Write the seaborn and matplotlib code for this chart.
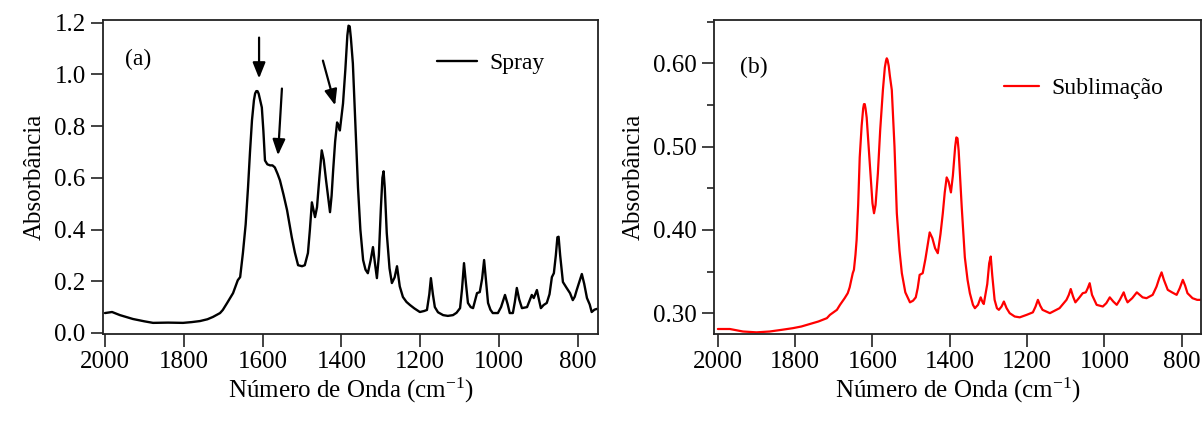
import numpy as np
import pandas as pd
import matplotlib
matplotlib.use("Agg")
import matplotlib.pyplot as plt
import seaborn as sns

# ---- data ----
wn_spray = [2000, 1982, 1962, 1929, 1900, 1878, 1840, 1802, 1780, 1759, 1740, 1726, 1708, 1701,
            1690, 1675, 1663, 1657, 1650, 1643, 1637, 1632, 1627, 1622, 1619, 1616, 1613, 1610,
            1607, 1602, 1598, 1594, 1588, 1581, 1575, 1569, 1562, 1556, 1547, 1538, 1526, 1518,
            1510, 1500, 1493, 1485, 1480, 1475, 1467, 1462, 1456, 1450, 1445, 1439, 1429, 1425,
            1421, 1416, 1411, 1407, 1404, 1396, 1390, 1385, 1382, 1379, 1376, 1371, 1365, 1358,
            1352, 1345, 1339, 1333, 1326, 1320, 1315, 1310, 1305, 1300, 1296, 1293, 1290, 1285,
            1278, 1272, 1265, 1259, 1252, 1244, 1235, 1226, 1215, 1201, 1190, 1183, 1177, 1173,
            1168, 1163, 1155, 1142, 1130, 1117, 1108, 1099, 1094, 1089, 1084, 1079, 1072, 1066,
            1056, 1049, 1043, 1038, 1033, 1028, 1022, 1016, 1003, 995, 985, 978, 973, 965, 960,
            955, 949, 942, 929, 917, 912, 904, 899, 894, 887, 879, 872, 866, 861, 856, 852, 849,
            845, 838, 829, 820, 813, 808, 803, 796, 790, 784, 777, 770, 765, 758, 752]
abs_spray = [0.077, 0.081, 0.069, 0.054, 0.045, 0.039, 0.040, 0.039, 0.042, 0.046, 0.053, 0.062,
             0.077, 0.089, 0.116, 0.154, 0.204, 0.216, 0.309, 0.420, 0.563, 0.700, 0.822, 0.900,
             0.926, 0.935, 0.935, 0.925, 0.905, 0.872, 0.780, 0.667, 0.652, 0.648, 0.648, 0.640,
             0.615, 0.590, 0.535, 0.475, 0.370, 0.310, 0.262, 0.258, 0.262, 0.309, 0.400, 0.505,
             0.448, 0.486, 0.600, 0.706, 0.670, 0.590, 0.467, 0.530, 0.629, 0.740, 0.814, 0.800,
             0.783, 0.887, 1.020, 1.150, 1.188, 1.185, 1.140, 1.042, 0.820, 0.563, 0.400, 0.282,
             0.245, 0.231, 0.280, 0.332, 0.270, 0.212, 0.300, 0.480, 0.600, 0.625, 0.560, 0.386,
             0.250, 0.193, 0.215, 0.258, 0.180, 0.139, 0.120, 0.108, 0.095, 0.081, 0.085, 0.089,
             0.150, 0.212, 0.150, 0.100, 0.080, 0.069, 0.066, 0.069, 0.078, 0.096, 0.170, 0.270,
             0.190, 0.116, 0.100, 0.096, 0.154, 0.158, 0.210, 0.282, 0.200, 0.116, 0.090, 0.077,
             0.077, 0.100, 0.147, 0.110, 0.077, 0.077, 0.120, 0.174, 0.130, 0.096, 0.100, 0.147,
             0.135, 0.166, 0.130, 0.096, 0.108, 0.116, 0.150, 0.216, 0.231, 0.300, 0.370, 0.372,
             0.300, 0.197, 0.175, 0.154, 0.127, 0.140, 0.166, 0.200, 0.228, 0.190, 0.135, 0.110,
             0.081, 0.090, 0.093]

wn_sub = [2000, 1969, 1935, 1900, 1866, 1835, 1806, 1784, 1762, 1740, 1718, 1710, 1692, 1684,
          1672, 1664, 1659, 1651, 1648, 1644, 1641, 1637, 1633, 1628, 1624, 1622, 1620, 1618,
          1615, 1610, 1604, 1600, 1596, 1592, 1586, 1580, 1573, 1568, 1565, 1563, 1561, 1558,
          1555, 1550, 1543, 1537, 1530, 1524, 1515, 1503, 1495, 1488, 1483, 1478, 1470, 1463,
          1452, 1445, 1438, 1431, 1424, 1418, 1413, 1408, 1403, 1397, 1392, 1386, 1383, 1380,
          1377, 1373, 1369, 1361, 1354, 1348, 1340, 1335, 1327, 1320, 1315, 1312, 1303, 1298,
          1294, 1290, 1284, 1278, 1273, 1266, 1260, 1253, 1245, 1232, 1219, 1201, 1185, 1178,
          1172, 1166, 1160, 1141, 1116, 1098, 1092, 1087, 1081, 1075, 1066, 1056, 1048, 1043,
          1038, 1032, 1020, 1004, 995, 986, 977, 968, 960, 950, 945, 940, 928, 916, 901, 891,
          875, 865, 858, 852, 846, 836, 825, 813, 805, 797, 791, 785, 772, 760, 750]
abs_sub = [0.281, 0.281, 0.278, 0.277, 0.278, 0.280, 0.282, 0.284, 0.287, 0.290, 0.294, 0.298,
           0.304, 0.310, 0.318, 0.324, 0.331, 0.348, 0.352, 0.370, 0.388, 0.430, 0.487, 0.525,
           0.546, 0.551, 0.551, 0.546, 0.535, 0.500, 0.460, 0.432, 0.420, 0.430, 0.468, 0.520,
           0.568, 0.595, 0.603, 0.606, 0.604, 0.597, 0.585, 0.568, 0.500, 0.420, 0.375, 0.348,
           0.325, 0.313, 0.315, 0.319, 0.330, 0.346, 0.348, 0.365, 0.397, 0.390, 0.378, 0.372,
           0.395, 0.420, 0.445, 0.463, 0.458, 0.445, 0.465, 0.500, 0.511, 0.510, 0.495, 0.460,
           0.427, 0.367, 0.340, 0.324, 0.310, 0.306, 0.310, 0.319, 0.313, 0.311, 0.335, 0.360,
           0.368, 0.345, 0.316, 0.306, 0.304, 0.308, 0.314, 0.306, 0.300, 0.296, 0.295, 0.298,
           0.301, 0.308, 0.316, 0.309, 0.304, 0.300, 0.306, 0.316, 0.322, 0.329, 0.320, 0.313,
           0.318, 0.324, 0.325, 0.330, 0.336, 0.322, 0.310, 0.308, 0.312, 0.319, 0.314, 0.310,
           0.316, 0.325, 0.318, 0.313, 0.318, 0.325, 0.319, 0.318, 0.322, 0.332, 0.342, 0.349,
           0.340, 0.328, 0.325, 0.322, 0.330, 0.340, 0.333, 0.324, 0.318, 0.316, 0.316]

x_ticks = [2000, 1800, 1600, 1400, 1200, 1000, 800]

# arrows in panel (a): (tail wn, tail abs, head wn, head abs)
arrows_a = [(1609, 1.142, 1609, 0.984),
            (1551, 0.945, 1561, 0.687),
            (1447, 1.053, 1416, 0.880)]

# ---- style ----
sns.set_style("ticks")
plt.rcParams["font.family"] = ["Liberation Serif", "DejaVu Serif"]
plt.rcParams["mathtext.fontset"] = "custom"
plt.rcParams["mathtext.rm"] = "Liberation Serif"
plt.rcParams["mathtext.it"] = "Liberation Serif:italic"
plt.rcParams["axes.linewidth"] = 1.3
plt.rcParams["axes.edgecolor"] = "#222222"
plt.rcParams["text.color"] = "black"
plt.rcParams["axes.labelcolor"] = "black"
FS = 18

df_a = pd.DataFrame({"wn": wn_spray, "A": abs_spray})
df_b = pd.DataFrame({"wn": wn_sub, "A": abs_sub})

fig = plt.figure(figsize=(12.04, 4.25), dpi=100)
ax1 = fig.add_axes([103 / 1204, 91 / 425, 495 / 1204, 314 / 425])
ax2 = fig.add_axes([714 / 1204, 91 / 425, 487 / 1204, 314 / 425])

sns.lineplot(data=df_a, x="wn", y="A", ax=ax1, color="black", linewidth=1.7,
             estimator=None, label="Spray")
sns.lineplot(data=df_b, x="wn", y="A", ax=ax2, color="#ff0000", linewidth=1.6,
             estimator=None, label="Sublimação")

# panel (a)
ax1.set_xlim(2005, 749)
ax1.set_ylim(-0.004, 1.21)
ax1.set_yticks(np.arange(0, 1.21, 0.2))
ax1.set_yticklabels([f"{v:.1f}" for v in np.arange(0, 1.21, 0.2)])
ax1.text(0.044, 0.873, "(a)", transform=ax1.transAxes, fontsize=FS - 1, va="center")
for x0, y0, x1, y1 in arrows_a:
    ax1.annotate("", xy=(x1, y1), xytext=(x0, y0),
                 arrowprops=dict(arrowstyle="-|>,head_length=0.95,head_width=0.38",
                                 color="black", lw=1.6, shrinkA=0, shrinkB=0))
ax1.legend(loc="center left", bbox_to_anchor=(0.675, 0.863), frameon=False,
           fontsize=FS - 1, handlelength=1.7, handletextpad=0.5,
           borderaxespad=0, borderpad=0)

# panel (b)
ax2.set_xlim(2010, 750)
ax2.set_ylim(0.275, 0.652)
ax2.set_yticks([0.30, 0.40, 0.50, 0.60])
ax2.set_yticklabels(["0.30", "0.40", "0.50", "0.60"])
ax2.set_yticks([0.35, 0.45, 0.55, 0.65], minor=True)
ax2.text(0.053, 0.85, "(b)", transform=ax2.transAxes, fontsize=FS - 1, va="center")
ax2.legend(loc="center left", bbox_to_anchor=(0.595, 0.783), frameon=False,
           fontsize=FS - 1, handlelength=1.5, handletextpad=0.5,
           borderaxespad=0, borderpad=0)

for ax in (ax1, ax2):
    ax.set_xticks(x_ticks)
    ax.set_xticklabels([str(t) for t in x_ticks])
    ax.set_xlabel(r"Número de Onda (cm$^{-1}$)", fontsize=FS, labelpad=2)
    ax.set_ylabel("Absorbância", fontsize=FS, labelpad=6)
    ax.tick_params(axis="both", which="major", direction="out", length=9, width=1.2,
                   labelsize=FS, colors="#222222", labelcolor="black")
    ax.tick_params(axis="y", which="minor", direction="out", length=5, width=1.2,
                   colors="#222222")
    for s in ax.spines.values():
        s.set_visible(True)

fig.savefig("out.png", dpi=100)
